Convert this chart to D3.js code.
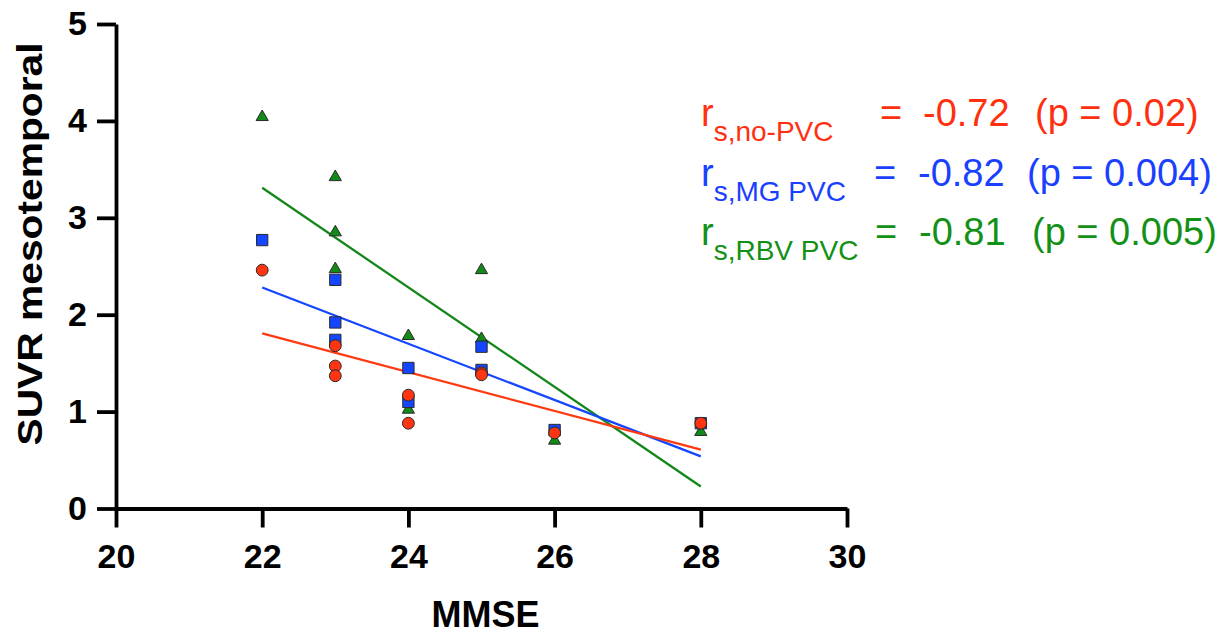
<!DOCTYPE html>
<html>
<head>
<meta charset="utf-8">
<script src="https://cdn.jsdelivr.net/npm/d3@7"></script>
<style>
  body { margin: 0; background: #fff; }
  svg { display: block; font-family: Arial, "Liberation Sans", sans-serif; }
</style>
</head>
<body>
<div id="app"></div>
<script>
// MMSE score of each subject (same for all three methods)
const MMSE = [22, 23, 23, 23, 24, 24, 25, 25, 26, 28];

// SUVR mesotemporal, one array per partial-volume correction method
const NO_PVC = [2.46, 1.68, 1.47, 1.37, 1.17, 0.88, 1.40, 1.38, 0.78, 0.88];
const MG_PVC = [2.77, 2.36, 1.92, 1.74, 1.45, 1.10, 1.67, 1.43, 0.81, 0.88];
const RBV_PVC = [4.04, 3.42, 2.85, 2.47, 1.78, 1.02, 2.46, 1.75, 0.70, 0.79];

const SERIES_SUB = ['s,no-PVC', 's,MG PVC', 's,RBV PVC'];
const R_VALUES = ['-0.72', '-0.82', '-0.81'];
const P_VALUES = ['(p = 0.02)', '(p = 0.004)', '(p = 0.005)'];

const X_TICKS = [20, 22, 24, 26, 28, 30];
const Y_TICKS = [0, 1, 2, 3, 4, 5];

const width = 1230;
const height = 635;

const series = [
  { values: RBV_PVC, color: '#14871a', fill: '#118a17', shape: d3.symbolTriangle, size: 64 },
  { values: MG_PVC, color: '#1446ff', fill: '#1446ff', shape: d3.symbolSquare, size: 128 },
  { values: NO_PVC, color: '#ff3a10', fill: '#ff3410', shape: d3.symbolCircle, size: 110 },
];

const x = d3.scaleLinear().domain([20, 30]).range([116, 847]);
const y = d3.scaleLinear().domain([0, 5]).range([508.5, 24]);

// least squares fit, drawn over the observed MMSE range
const fit = (xs, ys) => {
  const mx = d3.mean(xs);
  const my = d3.mean(ys);
  const sxy = d3.sum(xs, (v, i) => (v - mx) * (ys[i] - my));
  const sxx = d3.sum(xs, (v) => (v - mx) ** 2);
  const b = sxy / sxx;
  const a = my - b * mx;
  return d3.extent(xs).map((v) => [v, a + b * v]);
};

const svg = d3.select('#app').append('svg').attr('width', width).attr('height', height);

// axes
const xAxis = svg.append('g')
  .attr('transform', `translate(0,${y(0)})`)
  .call(d3.axisBottom(x).tickValues(X_TICKS).tickFormat(d3.format('d'))
    .tickSize(19).tickSizeOuter(0).tickPadding(16));
const yAxis = svg.append('g')
  .attr('transform', `translate(${x(20)},0)`)
  .call(d3.axisLeft(y).tickValues(Y_TICKS).tickFormat(d3.format('d'))
    .tickSize(19).tickSizeOuter(0).tickPadding(10));

[xAxis, yAxis].forEach((g) => {
  g.selectAll('path, line').attr('stroke', '#000').attr('stroke-width', 3.8);
  g.selectAll('text')
    .attr('fill', '#000')
    .attr('font-size', 34)
    .attr('font-weight', 'bold');
});

// regression lines
series.forEach((s) => {
  svg.append('path')
    .datum(fit(MMSE, s.values))
    .attr('d', d3.line().x((d) => x(d[0])).y((d) => y(d[1])))
    .attr('fill', 'none')
    .attr('stroke', s.color)
    .attr('stroke-width', 2.3);
});

// points: green first, red on top
series.forEach((s) => {
  svg.append('g')
    .selectAll('path')
    .data(s.values)
    .enter()
    .append('path')
    .attr('transform', (d, i) => `translate(${x(MMSE[i])},${y(d)})`)
    .attr('d', d3.symbol().type(s.shape).size(s.size))
    .attr('fill', s.fill)
    .attr('stroke', '#2a2a2a')
    .attr('stroke-width', 1);
});

// axis titles
svg.append('text')
  .attr('x', x(25) + 4)
  .attr('y', 627)
  .attr('text-anchor', 'middle')
  .attr('font-size', 36)
  .attr('font-weight', 'bold')
  .text('MMSE');

svg.append('text')
  .attr('transform', 'translate(42,244) rotate(-90)')
  .attr('text-anchor', 'middle')
  .attr('font-size', 35)
  .attr('font-weight', 'bold')
  .attr('textLength', 403)
  .attr('lengthAdjust', 'spacingAndGlyphs')
  .text('SUVR mesotemporal');

// correlation annotations
const legendColors = ['#ff3010', '#1a40ff', '#139016'];
const legendRows = [
  { base: 126, eq: 880, r: 923, p: 1035 },
  { base: 186, eq: 874, r: 918, p: 1027 },
  { base: 245, eq: 875, r: 919, p: 1032 },
];

legendRows.forEach((row, i) => {
  const g = svg.append('g').attr('fill', legendColors[i]).attr('font-size', 38);
  const t = g.append('text').attr('x', 701).attr('y', row.base);
  t.append('tspan').text('r');
  t.append('tspan').attr('font-size', 28).attr('dy', 15).text(SERIES_SUB[i]);
  g.append('text').attr('x', row.eq).attr('y', row.base).text('=');
  g.append('text').attr('x', row.r).attr('y', row.base).text(R_VALUES[i]);
  g.append('text').attr('x', row.p).attr('y', row.base).text(P_VALUES[i]);
});
</script>
</body>
</html>
